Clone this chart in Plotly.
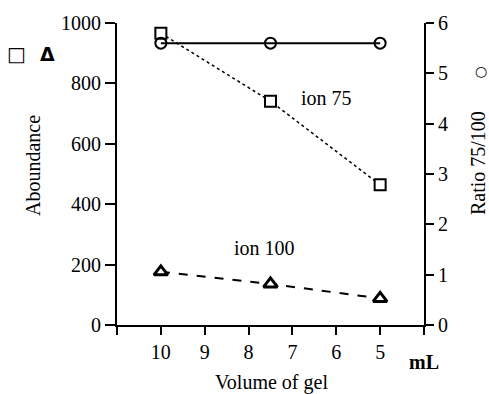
import plotly.graph_objects as go

# Data
volume = [10, 7.5, 5]
ion75 = [966, 741, 464]
ion100 = [176, 136, 88]
ratio = [5.6, 5.6, 5.6]

x_tickvals = [11, 10, 9, 8, 7, 6, 5, 4]
x_ticktext = ["", "10", "9", "8", "7", "6", "5", ""]
y_tickvals = [0, 200, 400, 600, 800, 1000]
y2_tickvals = [0, 1, 2, 3, 4, 5, 6]

FONT = "Liberation Serif, Times New Roman, serif"
W, H = 489, 394
L, R, T, B = 117, 65, 21, 69

fig = go.Figure()

fig.add_trace(go.Scatter(
    x=volume, y=ratio, yaxis="y2", mode="lines+markers",
    line=dict(color="black", width=2),
    marker=dict(symbol="circle-open", size=11, color="black", line=dict(width=2)),
    showlegend=False))

fig.add_trace(go.Scatter(
    x=volume, y=ion75, mode="lines+markers",
    line=dict(color="black", width=1.5, dash="dot"),
    marker=dict(symbol="square", size=11, color="white", line=dict(color="black", width=2)),
    showlegend=False))

fig.add_trace(go.Scatter(
    x=volume, y=ion100, mode="lines+markers",
    line=dict(color="black", width=2, dash="dash"),
    marker=dict(symbol="triangle-up", size=12, color="white", line=dict(color="black", width=3)),
    showlegend=False))

axis_common = dict(
    showline=True, linecolor="black", linewidth=2,
    ticks="outside", tickcolor="black", tickwidth=2,
    showgrid=False, zeroline=False,
    tickfont=dict(family=FONT, size=20, color="black"),
)

fig.update_layout(
    width=W, height=H,
    margin=dict(l=L, r=R, t=T, b=B),
    paper_bgcolor="white", plot_bgcolor="white",
    font=dict(family=FONT, size=20, color="black"),
    xaxis=dict(range=[11, 4], tickvals=x_tickvals, ticktext=x_ticktext,
               ticklen=8, **axis_common),
    yaxis=dict(range=[0, 1000], tickvals=y_tickvals, ticklen=10, **axis_common),
    yaxis2=dict(range=[0, 6], tickvals=y2_tickvals, ticklen=8, overlaying="y",
                side="right", **axis_common),
)

def px2paper(px, py):
    return (px - L) / (W - L - R), (H - B - py) / (H - T - B)

annots = []
annots.append(dict(x=6.84, y=751, xref="x", yref="y", text="ion 75",
                   xanchor="left", yanchor="middle", showarrow=False))
annots.append(dict(x=7.64, y=254, xref="x", yref="y", text="ion 100",
                   xanchor="center", yanchor="middle", showarrow=False))

def add_paper(px, py, text, **kw):
    x, y = px2paper(px, py)
    d = dict(x=x, y=y, xref="paper", yref="paper", text=text, showarrow=False,
             xanchor="center", yanchor="middle")
    d.update(kw)
    annots.append(d)

add_paper(33, 165, "Aboundance", textangle=-90)
add_paper(478, 162, "Ratio 75/100", textangle=-90)
add_paper(271, 383, "Volume of gel")
add_paper(424, 362, "<b>mL</b>")
add_paper(16, 52, "□", font=dict(family="DejaVu Sans", size=20, color="#000000"))
add_paper(47, 52, "<b>Δ</b>", font=dict(family="DejaVu Sans", size=19, color="#000000"))
add_paper(481, 69, "○", font=dict(family="DejaVu Sans", size=14, color="#000000"))

fig.update_layout(annotations=annots)

fig.write_html("out.html")
